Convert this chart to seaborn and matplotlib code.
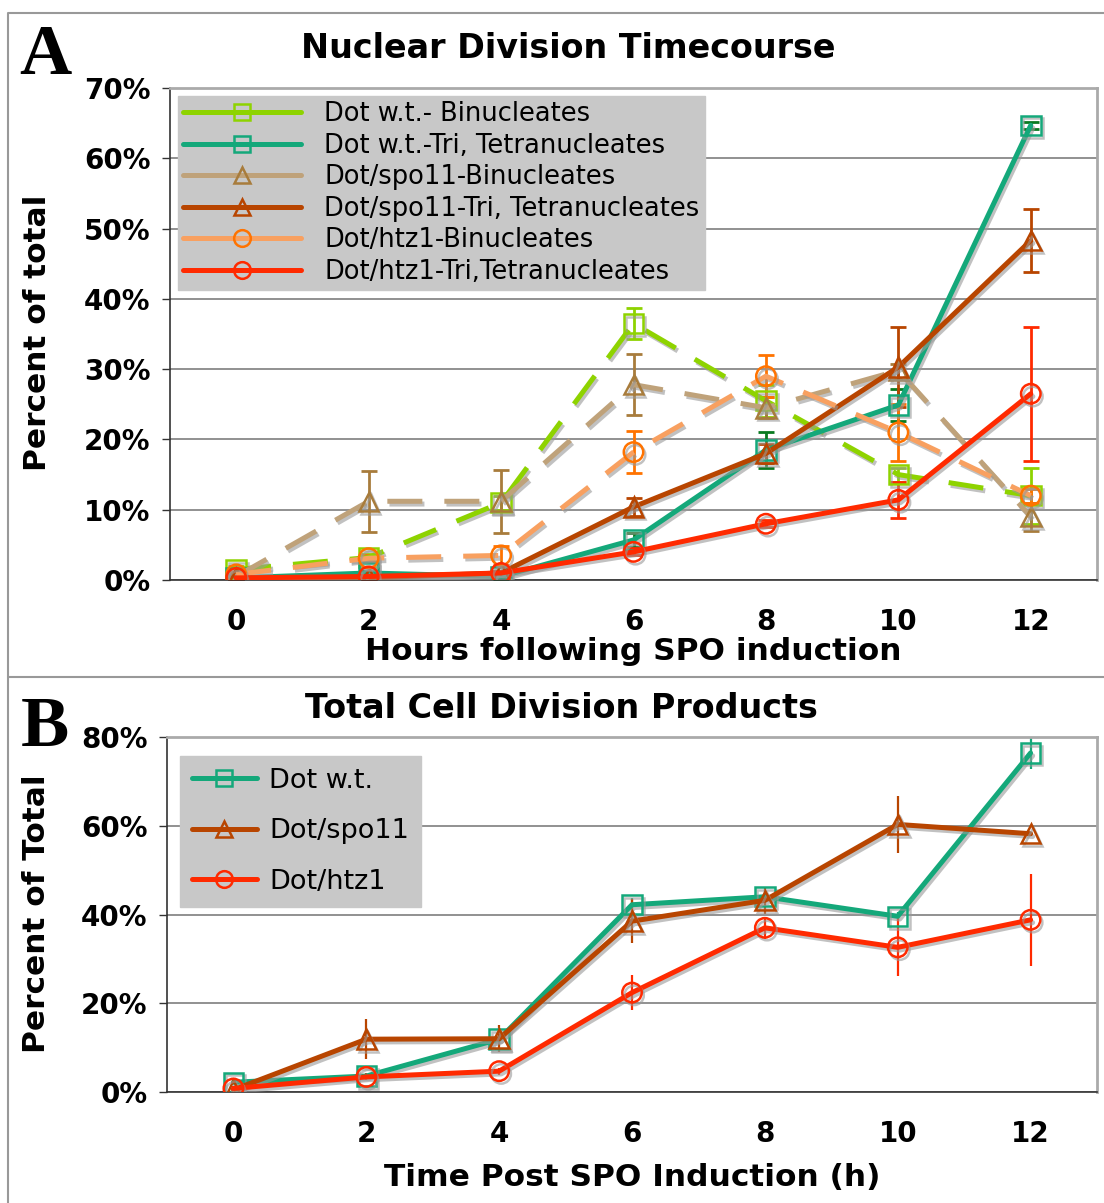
import numpy as np
import matplotlib
matplotlib.use("Agg")
import matplotlib.pyplot as plt
import matplotlib.patheffects as pe
from matplotlib.ticker import FuncFormatter
import seaborn as sns

# Panel A - nuclear division timecourse (% of total)
hours = [0, 2, 4, 6, 8, 10, 12]
wt_bi = [1.5, 3.2, 11.0, 36.5, 25.5, 15.0, 12.0]
wt_bi_err = [0.5, 0.5, 1.0, 2.2, 2.3, 1.0, 4.0]
wt_tri = [0.3, 1.0, 0.5, 5.7, 18.5, 24.9, 64.7]
wt_tri_err = [0.2, 0.3, 0.3, 1.0, 2.5, 2.3, 0.5]
spo_bi = [0.5, 11.2, 11.2, 27.8, 24.5, 29.8, 9.0]
spo_bi_err = [0.5, 4.3, 4.5, 4.3, 1.5, 1.0, 2.0]
spo_tri = [0.3, 0.3, 1.0, 10.4, 18.0, 30.3, 48.3]
spo_tri_err = [0.2, 0.3, 0.3, 1.3, 1.3, 5.7, 4.5]
htz_bi = [0.8, 3.1, 3.5, 18.2, 29.0, 21.0, 12.0]
htz_bi_err = [0.3, 0.5, 1.3, 3.0, 3.0, 4.0, 1.0]
htz_tri = [0.3, 0.5, 1.0, 4.0, 8.0, 11.4, 26.5]
htz_tri_err = [0.2, 0.3, 0.3, 0.5, 0.5, 2.6, 9.5]

# Panel B - total cell division products
wt_tot = [2.2, 3.6, 11.9, 42.2, 44.0, 39.6, 76.4]
wt_tot_err = [0.5, 0.5, 1.5, 1.5, 1.5, 1.0, 3.5]
spo_tot = [0.5, 11.9, 12.0, 38.5, 43.2, 60.3, 58.2]
spo_tot_err = [0.5, 4.5, 3.0, 5.0, 3.0, 6.5, 0.5]
htz_tot = [0.8, 3.4, 4.7, 22.4, 37.0, 32.6, 38.8]
htz_tot_err = [0.5, 0.8, 0.8, 4.0, 2.5, 6.5, 10.4]

sns.set_theme(style="white")
plt.rcParams["font.family"] = ["DejaVu Sans"]
plt.rcParams["text.color"] = "black"
plt.rcParams["xtick.color"] = "black"
plt.rcParams["ytick.color"] = "black"

W, H = 1104, 1203
fig = plt.figure(figsize=(W / 100, H / 100), dpi=100)

def fx(px):
    return px / W

def fy(py):
    return 1 - py / H

shadow = [pe.SimpleLineShadow(offset=(1.5, -2), shadow_color="#999999", alpha=0.6), pe.Normal()]
dash = (0, (7, 4.4))

def series(ax, y, err, label, color, marker, ecolor, dashed=False, lcolor=None, caps=True, elw=2):
    x = np.arange(len(hours))
    sns.lineplot(x=x, y=y, ax=ax, color=lcolor or color, lw=3.6,
                 linestyle=dash if dashed else "-", marker=marker, markersize=14,
                 markerfacecolor="none", markeredgecolor=color, markeredgewidth=1.8,
                 label=label, path_effects=shadow, zorder=3)
    ax.errorbar(x, y, yerr=err, fmt="none", ecolor=ecolor, elinewidth=elw,
                capsize=6 if caps else 0, capthick=2, zorder=2.5)

def style_axes(ax, ymax, step):
    ax.set_xlim(-0.5, 6.5)
    ax.set_ylim(0, ymax)
    ax.set_yticks(np.arange(0, ymax + 1, step))
    ax.yaxis.set_major_formatter(FuncFormatter(lambda v, p: f"{v:.0f}%"))
    ax.set_xticks(range(7))
    ax.set_xticklabels([str(h) for h in hours])
    ax.set_xticks(np.arange(-0.5, 7, 1), minor=True)
    ax.tick_params(axis="x", which="major", length=0, pad=20)
    ax.tick_params(axis="x", which="minor", length=6, width=1, color="#333333", direction="out")
    ax.tick_params(axis="y", length=6, width=1, color="#333333", direction="out", left=True, pad=8)
    for t in ax.get_xticklabels() + ax.get_yticklabels():
        t.set_fontsize(20)
        t.set_fontweight("bold")
    ax.grid(axis="y", color="#888888", lw=1.3)
    ax.grid(axis="x", visible=False)
    for s in ["left", "bottom"]:
        ax.spines[s].set_color("#333333")
        ax.spines[s].set_linewidth(1.2)
    for s in ["top", "right"]:
        ax.spines[s].set_color("#aaaaaa")
        ax.spines[s].set_linewidth(2)
    ax.set_xlabel("")
    ax.set_ylabel("")

def tidy_legend(leg):
    leg.set_zorder(5)
    for h in leg.legend_handles:
        h.set_path_effects([])
        h.set_linestyle("-")
        h.set_markersize(12)

# ---- Panel A
axA = fig.add_axes([fx(170), fy(580), fx(1097 - 170), (580 - 88) / H])
series(axA, wt_bi, wt_bi_err, "Dot w.t.- Binucleates", "#8ED300", "s", "#8ED300", dashed=True)
series(axA, wt_tri, wt_tri_err, "Dot w.t.-Tri, Tetranucleates", "#14A87A", "s", "#0A7A20")
series(axA, spo_bi, spo_bi_err, "Dot/spo11-Binucleates", "#A87C3C", "^", "#A87C3C", dashed=True, lcolor="#BFA27A")
series(axA, spo_tri, spo_tri_err, "Dot/spo11-Tri, Tetranucleates", "#B84500", "^", "#B84500")
series(axA, htz_bi, htz_bi_err, "Dot/htz1-Binucleates", "#FF7300", "o", "#FF7300", dashed=True, lcolor="#F8A060")
series(axA, htz_tri, htz_tri_err, "Dot/htz1-Tri,Tetranucleates", "#FF2A00", "o", "#FF2A00")
style_axes(axA, 70, 10)
legA = axA.legend(loc="upper left", bbox_to_anchor=(0.0, 1.0), fontsize=18.5, frameon=True,
                  facecolor="#c8c8c8", edgecolor="#c8c8c8", framealpha=1, fancybox=False,
                  labelspacing=0.22, handlelength=4.6, handletextpad=0.9, borderpad=0.2,
                  borderaxespad=0.3)
tidy_legend(legA)

fig.text(fx(568), fy(48), "Nuclear Division Timecourse", fontsize=24, fontweight="bold",
         ha="center", va="center")
fig.text(fx(633), fy(652), "Hours following SPO induction", fontsize=22.5, fontweight="bold",
         ha="center", va="center")
fig.text(fx(38), fy(333), "Percent of total", fontsize=22.5, fontweight="bold",
         ha="center", va="center", rotation=90)
fig.text(fx(45), fy(56), "A", fontsize=52, fontweight="bold", family="Liberation Serif",
         ha="center", va="center")

# ---- Panel B
axB = fig.add_axes([fx(167), fy(1092), fx(1097 - 167), (1092 - 737) / H])
series(axB, wt_tot, wt_tot_err, "Dot w.t.", "#14A87A", "s", "#14A87A", caps=False, elw=1.6)
series(axB, spo_tot, spo_tot_err, "Dot/spo11", "#B84500", "^", "#B84500", caps=False, elw=1.6)
series(axB, htz_tot, htz_tot_err, "Dot/htz1", "#FF2A00", "o", "#FF2A00", caps=False, elw=1.6)
style_axes(axB, 80, 20)
legB = axB.legend(loc="upper left", bbox_to_anchor=(0.005, 0.97), fontsize=19.5, frameon=True,
                  facecolor="#c8c8c8", edgecolor="#c8c8c8", framealpha=1, fancybox=False,
                  labelspacing=0.9, handlelength=2.4, handletextpad=0.45, borderpad=0.45,
                  borderaxespad=0.3)
tidy_legend(legB)

fig.text(fx(561), fy(708), "Total Cell Division Products", fontsize=24, fontweight="bold",
         ha="center", va="center")
fig.text(fx(632), fy(1178), "Time Post SPO Induction (h)", fontsize=22.5, fontweight="bold",
         ha="center", va="center")
fig.text(fx(37), fy(914), "Percent of Total", fontsize=22.5, fontweight="bold",
         ha="center", va="center", rotation=90)
fig.text(fx(45), fy(729), "B", fontsize=52, fontweight="bold", family="Liberation Serif",
         ha="center", va="center")

# panel frames
for xs, ys in [([1110, 8, 8, 1110], [13, 13, 677, 677]), ([8, 8], [677, 1210])]:
    fig.add_artist(plt.Line2D([fx(v) for v in xs], [fy(v) for v in ys],
                              transform=fig.transFigure, color="#999999", lw=1.5))

fig.savefig("out.png", dpi=100)
